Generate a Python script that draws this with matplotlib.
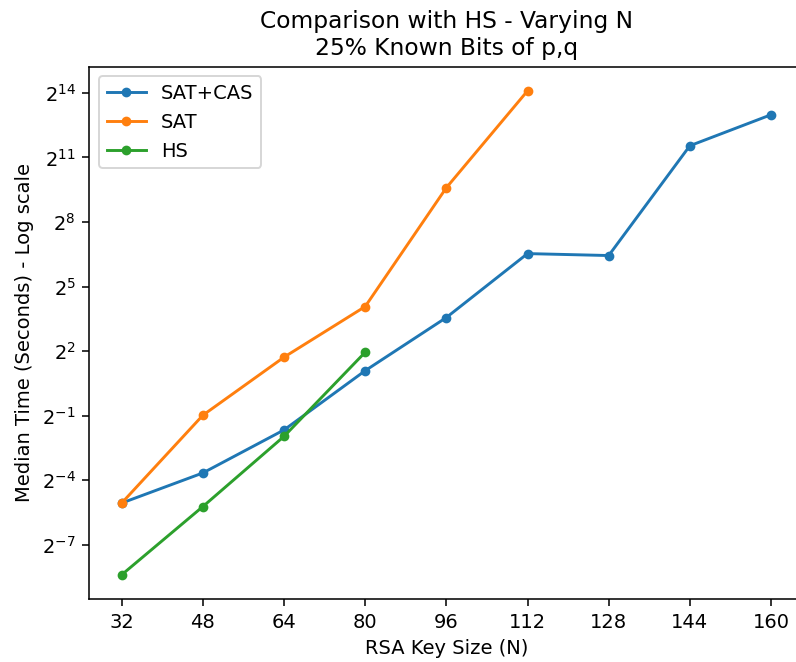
import matplotlib
matplotlib.use("Agg")
import matplotlib.pyplot as plt

# key sizes (bits) and median runtimes in seconds
key_sizes = [32, 48, 64, 80, 96, 112, 128, 144, 160]
sat_cas = [0.030, 0.0791, 0.316, 2.13, 11.8, 92.4, 86.8, 2978, 8077]

sat_sizes = [32, 48, 64, 80, 96, 112]
sat = [0.030, 0.507, 3.29, 16.8, 771, 17434]

hs_sizes = [32, 48, 64, 80]
hs = [0.00298, 0.0268, 0.257, 3.86]

y_ticks = [2.0**-7, 2.0**-4, 2.0**-1, 2.0**2, 2.0**5, 2.0**8, 2.0**11, 2.0**14]

DPI = 140


def main():
    fig = plt.figure(figsize=(796 / DPI, 662 / DPI), dpi=DPI)
    ax = fig.add_axes([0.1121, 0.0952, 0.8973, 0.8041])

    ax.plot(key_sizes, sat_cas, marker="o", markersize=4, label="SAT+CAS")
    ax.plot(sat_sizes, sat, marker="o", markersize=4, label="SAT")
    ax.plot(hs_sizes, hs, marker="o", markersize=4, label="HS")

    ax.set_yscale("log", base=2)
    ax.set_yticks(y_ticks)
    ax.set_xticks(key_sizes)
    ax.minorticks_off()

    ax.set_xlabel("RSA Key Size (N)")
    ax.set_ylabel("Median Time (Seconds) - Log scale")
    ax.set_title("Comparison with HS - Varying N\n25% Known Bits of p,q")
    ax.legend(loc="upper left")

    fig.savefig("out.png", dpi=DPI)


if __name__ == "__main__":
    main()
